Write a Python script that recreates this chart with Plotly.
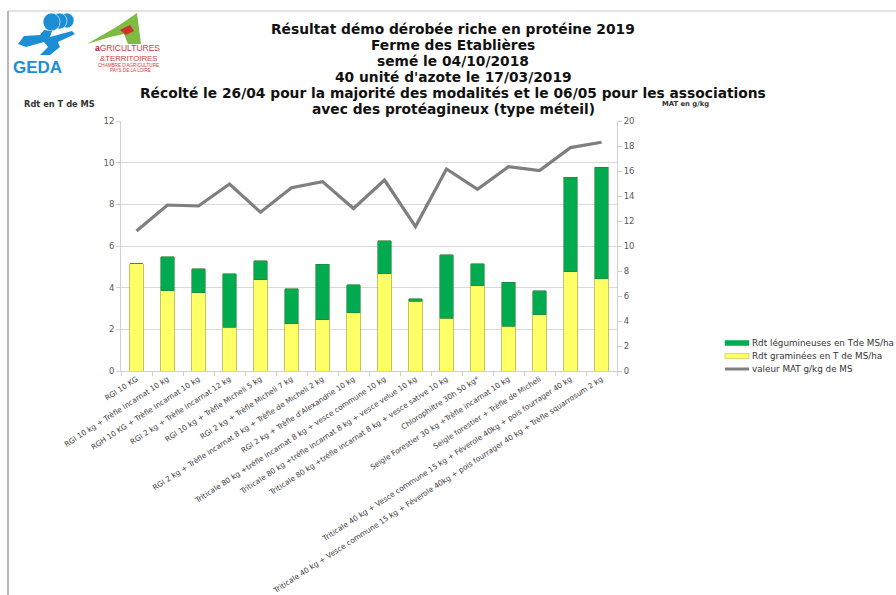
import plotly.graph_objects as go

categories = [
    "RGI 10 KG",
    "RGI 10 kg + Trèfle Incarnat 10 kg",
    "RGH 10 KG + Trèfle Incarnat 10 kg",
    "RGI 2 kg + Trèfle Incarnat 12 kg",
    "RGI 10 kg + Trèfle Micheli 5 kg",
    "RGI 2 kg + Trèfle Micheli 7 kg",
    "RGI 2 kg + Trèfle incarnat 8 kg + Trèfle de Micheli 2 kg",
    "RGI 2 kg + Trèfle d'Alexandrie 10 kg",
    "Triticale 80 kg +tréfle incarnat 8 kg + vesce commune 10 kg",
    "Triticale 80 kg +tréfle incarnat 8 kg + vesce velue 10 kg",
    "Triticale 80 kg +tréfle incarnat 8 kg + vesce sative 10 kg",
    "Chlorophiltre 30h 50 kg*",
    "Seigle Forestier 30 kg +Trèfle incarnat 10 kg",
    "Seigle forestier + Trèfle de Micheli",
    "Triticale 40 kg + Vesce commune 15 kg + Féverole 40kg + pois fourrager 40 kg",
    "Triticale 40 kg + Vesce commune 15 kg + Féverole 40kg + pois fourrager 40 kg + Trèfle squarrosum 2 kg",
]
graminees = [5.15, 3.85, 3.75, 2.10, 4.37, 2.26, 2.45, 2.79, 4.66, 3.35, 2.53, 4.10, 2.16, 2.69, 4.77, 4.42]
totals = [5.15, 5.48, 4.92, 4.66, 5.30, 3.96, 5.13, 4.15, 6.25, 3.48, 5.59, 5.14, 4.26, 3.85, 9.29, 9.79]
legumineuses = [round(t - g, 2) for t, g in zip(totals, graminees)]
mat = [11.2, 13.28, 13.2, 14.96, 12.7, 14.67, 15.15, 13.0, 15.28, 11.55, 16.16, 14.53, 16.35, 16.03, 17.87, 18.3]

series_names = ["Rdt légumineuses en Tde MS/ha", "Rdt graminées en T de MS/ha", "valeur MAT g/kg de MS"]

title_lines = [
    "Résultat démo dérobée riche en protéine 2019",
    "Ferme des Etablières",
    "semé le 04/10/2018",
    "40 unité d'azote le 17/03/2019",
    "Récolté le 26/04 pour la majorité des modalités et le 06/05 pour les associations",
    "avec des protéagineux (type méteil)",
]

W, H = 896, 595
L, R, T, B = 121, 617, 121, 371
GREEN, YELLOW, GREY = "#00AA4F", "#FFFF66", "#7F7F7F"


def px(x):
    return (x - L) / (R - L)


def py(y):
    return (B - y) / (B - T)


fig = go.Figure()
fig.add_trace(go.Bar(
    x=categories, y=graminees, name=series_names[1],
    marker=dict(color=YELLOW, line=dict(color="#B5B53A", width=0.8)),
    width=0.42, showlegend=False,
))
fig.add_trace(go.Bar(
    x=categories, y=legumineuses, name=series_names[0],
    marker=dict(color=GREEN, line=dict(color="#2E7D32", width=0.6)),
    width=0.42, showlegend=False,
))
fig.add_trace(go.Scatter(
    x=categories, y=mat, name=series_names[2], yaxis="y2",
    mode="lines", line=dict(color=GREY, width=3.2), showlegend=False,
))

title_font = "DejaVu Sans, sans-serif"
annotations = []
ys = [29, 45, 61, 77, 93, 109]
for txt, yy in zip(title_lines, ys):
    annotations.append(dict(
        text="<b>%s</b>" % txt, x=px(453), y=py(yy), xref="paper", yref="paper",
        showarrow=False, xanchor="center", yanchor="middle",
        font=dict(family=title_font, size=13.8, color="#111111"),
    ))
annotations.append(dict(text="<b>Rdt en T de MS</b>", x=px(22), y=py(104), xref="paper", yref="paper",
                        showarrow=False, xanchor="left", yanchor="middle",
                        font=dict(family=title_font, size=8.3, color="#333333")))
annotations.append(dict(text="<b>MAT en g/kg</b>", x=px(660), y=py(104), xref="paper", yref="paper",
                        showarrow=False, xanchor="left", yanchor="middle",
                        font=dict(family=title_font, size=6.8, color="#333333")))

# manual legend (Excel style wide swatches)
leg_y = [343, 356, 369]
leg_col = [GREEN, YELLOW, GREY]
shapes = []
for i, (name, yy, col) in enumerate(zip(series_names, leg_y, leg_col)):
    if i < 2:
        shapes.append(dict(type="rect", xref="paper", yref="paper", x0=px(725), x1=px(749),
                           y0=py(yy - 2.5), y1=py(yy + 2.5), fillcolor=col,
                           line=dict(color="#B5B53A" if i == 1 else col, width=0.5)))
    else:
        shapes.append(dict(type="line", xref="paper", yref="paper", x0=px(725), x1=px(749),
                           y0=py(yy), y1=py(yy), line=dict(color=col, width=3)))
    annotations.append(dict(text=name, x=px(750), y=py(yy), xref="paper", yref="paper",
                            showarrow=False, xanchor="left", yanchor="middle",
                            font=dict(family=title_font, size=8.8, color="#333333")))

# logos (text parts)
logo_font = "Liberation Sans, sans-serif"
annotations.append(dict(text="<b>GEDA</b>", x=px(37), y=py(67), xref="paper", yref="paper",
                        showarrow=False, xanchor="center", yanchor="middle",
                        font=dict(family=logo_font, size=17, color="#1B8ED6")))
annotations.append(dict(text="<span style='color:#B0122B'><b>a</b></span>GRICULTURES", x=px(127), y=py(48.5),
                        xref="paper", yref="paper", showarrow=False, xanchor="center", yanchor="middle",
                        font=dict(family=logo_font, size=8.5, color="#D33A3A")))
annotations.append(dict(text="&amp;TERRITOIRES", x=px(128), y=py(58), xref="paper", yref="paper",
                        showarrow=False, xanchor="center", yanchor="middle",
                        font=dict(family=logo_font, size=7.8, color="#D33A3A")))
annotations.append(dict(text="CHAMBRE D'AGRICULTURE", x=px(128), y=py(65), xref="paper", yref="paper",
                        showarrow=False, xanchor="center", yanchor="middle",
                        font=dict(family=logo_font, size=4.6, color="#D33A3A")))
annotations.append(dict(text="PAYS DE LA LOIRE", x=px(130), y=py(70), xref="paper", yref="paper",
                        showarrow=False, xanchor="center", yanchor="middle",
                        font=dict(family=logo_font, size=4.6, color="#D33A3A")))


def path(points):
    return "M " + " L ".join("%f,%f" % (px(a), py(b)) for a, b in points) + " Z"


shapes += [
    # frame
    dict(type="line", xref="paper", yref="paper", x0=px(8), x1=px(896), y0=py(11), y1=py(11),
         line=dict(color="#C8C8C8", width=1.2)),
    dict(type="line", xref="paper", yref="paper", x0=px(8), x1=px(8), y0=py(11), y1=py(600),
         line=dict(color="#A0A0A0", width=1.5)),
    # GEDA figure
    dict(type="circle", xref="paper", yref="paper", x0=px(60), x1=px(74), y0=py(13), y1=py(28),
         fillcolor="#1B8ED6", line=dict(width=0.6, color="white")),
    dict(type="circle", xref="paper", yref="paper", x0=px(52), x1=px(67), y0=py(13), y1=py(29),
         fillcolor="#1B8ED6", line=dict(width=0.6, color="white")),
    dict(type="circle", xref="paper", yref="paper", x0=px(43), x1=px(60), y0=py(13), y1=py(31),
         fillcolor="#1B8ED6", line=dict(width=0.6, color="white")),
    dict(type="path", xref="paper", yref="paper",
         path=path([(18, 44), (24, 36), (40, 35), (44, 30), (52, 31), (50, 37), (72, 31), (75, 34),
                    (58, 42), (60, 47), (50, 55), (40, 55), (48, 47), (44, 42), (26, 47)]),
         fillcolor="#1B8ED6", line=dict(width=0)),
    # Agri logo triangle
    dict(type="path", xref="paper", yref="paper",
         path=path([(87, 44), (118, 26), (137, 13), (141, 44), (128, 44), (124, 34), (110, 37)]),
         fillcolor="#7DBB42", line=dict(width=0)),
    dict(type="path", xref="paper", yref="paper",
         path=path([(120, 30), (130, 25), (134, 31), (126, 35)]),
         fillcolor="#D32F2F", line=dict(width=0)),
]

axis_common = dict(showline=True, linecolor="#D0D0D0", ticks="outside", ticklen=4,
                   tickcolor="#D0D0D0", automargin=False)

fig.update_layout(
    width=W, height=H,
    margin=dict(l=L, r=W - R, t=T, b=H - B, pad=0, autoexpand=False),
    barmode="stack",
    plot_bgcolor="white", paper_bgcolor="white",
    font=dict(family=title_font, color="#404040"),
    showlegend=False,
    xaxis=dict(
        tickangle=-33, tickfont=dict(family=title_font, size=7.4, color="#404040"),
        tickson="boundaries", showgrid=False, **axis_common,
    ),
    yaxis=dict(
        range=[0, 12], dtick=2, showgrid=True, gridcolor="#D9D9D9", gridwidth=1,
        tickfont=dict(size=8.5, color="#595959"), zeroline=False, **axis_common,
    ),
    yaxis2=dict(
        range=[0, 20], dtick=2, overlaying="y", side="right", showgrid=False,
        tickfont=dict(size=8.5, color="#595959"), zeroline=False, **axis_common,
    ),
    annotations=annotations,
    shapes=shapes,
)

post = ("document.body.style.margin='0';document.body.style.overflow='hidden';"
        "var gd=document.getElementById('{plot_id}');"
        "Plotly.relayout(gd,{width:%d,height:%d});" % (W, H))
fig.write_html("out.html", config={"responsive": False, "displayModeBar": False}, post_script=post)
